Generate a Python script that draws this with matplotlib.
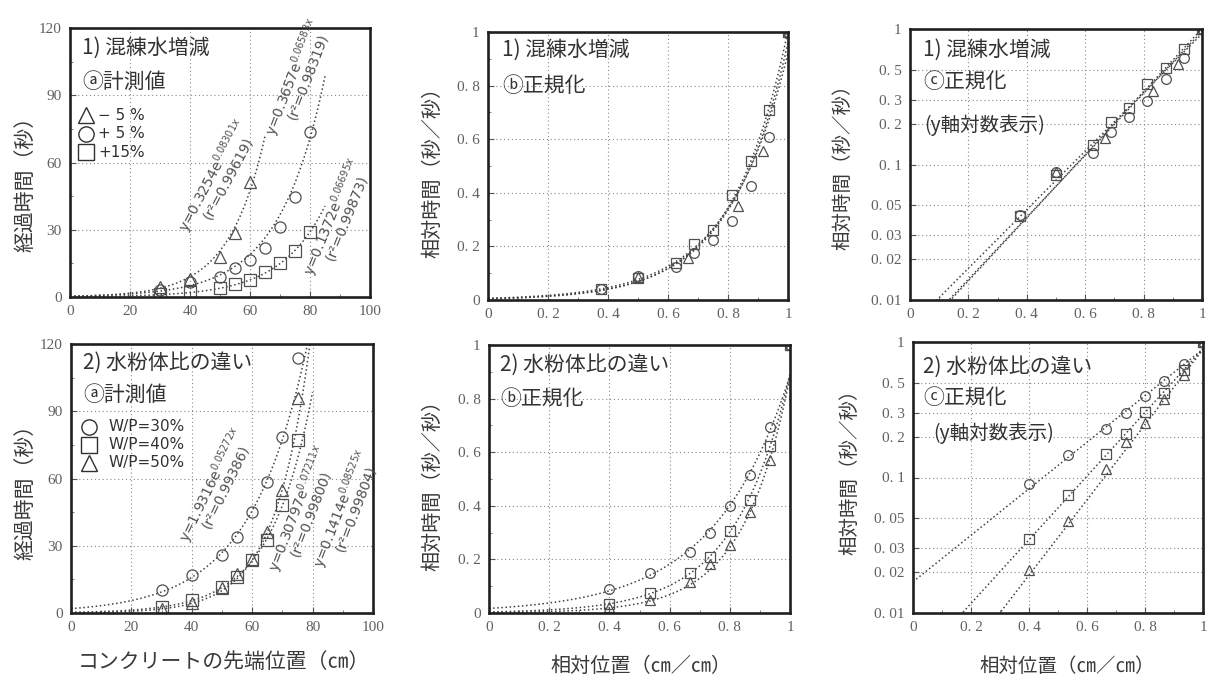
import numpy as np
import matplotlib
matplotlib.use("Agg")
import matplotlib.pyplot as plt
from matplotlib.transforms import offset_copy

plt.rcParams['font.family'] = ['Noto Sans CJK JP', 'DejaVu Sans']
plt.rcParams['mathtext.fontset'] = 'dejavusans'

# ---------------- data ----------------
# 1) mixing water: concrete front position (cm) and elapsed time (s)
pos_m5 = [30, 40, 50, 55, 60]
time_m5 = [4.5, 8.0, 18.0, 28.5, 51.4]
pos_p5 = [30, 40, 50, 55, 60, 65, 70, 75, 80]
time_p5 = [3.1, 6.5, 9.0, 12.8, 16.5, 21.7, 31.4, 44.7, 73.7]
pos_p15 = [30, 40, 50, 55, 60, 65, 70, 75, 80]
time_p15 = [1.2, 2.4, 4.0, 6.0, 7.6, 11.3, 15.0, 20.5, 28.9]
mix_labels = ['− 5 %', '+ 5 %', '+15%']
mix_fit_a = [0.3254, 0.3657, 0.1372]
mix_fit_b = [0.08301, 0.06583, 0.06695]
mix_r2 = [0.99619, 0.98319, 0.99873]

# 2) water/powder ratio
pos_wp = [30, 40, 50, 55, 60, 65, 70, 75]
time_wp30 = [10.1, 16.8, 25.8, 34.0, 45.2, 58.6, 78.7, 113.7]
time_wp40 = [2.7, 5.7, 11.6, 16.1, 23.6, 32.5, 48.2, 77.2]
time_wp50 = [2.0, 4.6, 11.0, 17.6, 24.3, 36.2, 54.9, 95.9]
wp_labels = ['W/P=30%', 'W/P=40%', 'W/P=50%']
wp_fit_a = [1.9316, 0.30797, 0.1414]
wp_fit_b = [0.05272, 0.07211, 0.08525]
wp_r2 = [0.99386, 0.99800, 0.99804]

# tick labels
pos_ticks = [0, 20, 40, 60, 80, 100]
time_ticks = [0, 30, 60, 90, 120]
rel_ticks = [0, 0.2, 0.4, 0.6, 0.8, 1]
rel_tick_labels = ['0', '0. 2', '0. 4', '0. 6', '0. 8', '1']
log_ticks = [0.01, 0.02, 0.03, 0.05, 0.1, 0.2, 0.3, 0.5, 1]
log_tick_labels = ['0. 01', '0. 02', '0. 03', '0. 05', '0. 1', '0. 2', '0. 3', '0. 5', '1']

# ---------------- style ----------------
W, H = 1208, 679
fig = plt.figure(figsize=(W / 100, H / 100), dpi=100)
fig.patch.set_facecolor('white')

TICK_FONT = dict(family='Liberation Serif', size=11, color='#606060')
mk_style = dict(mfc='none', mec='#505050', mew=0.9, ls='none')
curve_style = dict(ls=(0, (1, 1.7)), color='#404040', lw=1.1)


def px_axes(left, top, right, bottom):
    return fig.add_axes([left / W, 1 - bottom / H, (right - left) / W, (bottom - top) / H])


def style(ax, xticks, xlabels, yticks, ylabels):
    for s in ax.spines.values():
        s.set_linewidth(1.9)
        s.set_color('#202020')
    ax.set_xticks(xticks)
    ax.set_xticklabels(xlabels, fontdict=TICK_FONT)
    ax.set_yticks(yticks)
    ax.set_yticklabels(ylabels, fontdict=TICK_FONT)
    ax.tick_params(direction='in', length=4, width=0.8, color='#555', pad=6, which='major')
    ax.tick_params(direction='in', length=2.5, width=0.6, color='#666', which='minor')
    ax.grid(True, which='major', ls=(0, (1, 2.5)), color='#8a8a8a', lw=0.8)
    ax.set_axisbelow(True)


def panel_text(ax, x, y, s, size=15):
    ax.text(x, y, s, transform=ax.transAxes, fontsize=size, color='#333',
            ha='left', va='center', family=['Noto Sans CJK JP', 'DejaVu Sans'])


def fit_label(ax, x, y, rot, a, b, r2, ndig):
    kw = dict(rotation=rot, rotation_mode='anchor', ha='left', va='baseline',
              fontsize=10, color='#505050', family='DejaVu Sans')
    ax.text(x, y, f"y={a:.{ndig}f}e$^{{{b:.5f}x}}$", **kw)
    th = np.deg2rad(rot)
    along, down = 22, 13
    dx = along * np.cos(th) + down * np.sin(th)
    dy = along * np.sin(th) - down * np.cos(th)
    tr = offset_copy(ax.transData, fig=fig, x=dx, y=dy, units='dots')
    ax.text(x, y, f"(r²={r2:.5f})", transform=tr, **kw)


def legend_rows(ax, x_mark, x_text, ys, markers, labels, size):
    for yy, m, lab in zip(ys, markers, labels):
        ax.plot([x_mark], [yy], marker=m, ms=11, transform=ax.transAxes,
                clip_on=False, mfc='none', mec='#303030', mew=1.0)
        ax.text(x_text, yy, lab, transform=ax.transAxes, fontsize=size,
                color='#333', va='center', ha='left', family='DejaVu Sans')


mix_sets = [(pos_m5, time_m5, '^'), (pos_p5, time_p5, 'o'), (pos_p15, time_p15, 's')]
wp_sets = [(pos_wp, time_wp30, 'o'), (pos_wp, time_wp40, 's'), (pos_wp, time_wp50, '^')]


def measured_panel(ax, sets, fa, fb):
    for (px, tt, m), a, b in zip(sets, fa, fb):
        xc = np.linspace(0, max(px) + 5, 300)
        ax.plot(xc, a * np.exp(b * xc), **curve_style)
        ax.plot(px, tt, marker=m, ms=8, **mk_style)
    ax.set_xlim(0, 100)
    ax.set_ylim(0, 120)
    style(ax, pos_ticks, [str(v) for v in pos_ticks], time_ticks, [str(v) for v in time_ticks])
    ax.set_xticks(np.arange(10, 100, 20), minor=True)
    ax.set_yticks(np.arange(15, 120, 30), minor=True)


def normalized_panel(ax, sets, fa, fb, log=False):
    for (px, tt, m), a, b in zip(sets, fa, fb):
        px = np.asarray(px, float)
        tt = np.asarray(tt, float)
        xmax, tmax = px.max(), tt.max()
        xc = np.linspace(0, 1, 300)
        ax.plot(xc, a * np.exp(b * xmax * xc) / tmax, **curve_style)
        ax.plot(px / xmax, tt / tmax, marker=m, ms=7, **mk_style)
    ax.set_xlim(0, 1)
    if log:
        ax.set_yscale('log')
        ax.set_ylim(0.01, 1)
        style(ax, rel_ticks, rel_tick_labels, log_ticks, log_tick_labels)
        ax.yaxis.set_minor_locator(matplotlib.ticker.NullLocator())
        ax.set_xticks(np.arange(0.1, 1, 0.2), minor=True)
    else:
        ax.set_ylim(0, 1)
        style(ax, rel_ticks, rel_tick_labels, rel_ticks, rel_tick_labels)
        ax.set_xticks(np.arange(0.1, 1, 0.2), minor=True)
        ax.set_yticks(np.arange(0.1, 1, 0.2), minor=True)


# ---------------- panels ----------------
ax_tl = px_axes(70, 28, 370, 297)
ax_bl = px_axes(71, 344, 373, 613)
ax_tm = px_axes(488, 32, 788, 300)
ax_bm = px_axes(489, 345, 790, 613)
ax_tr = px_axes(910, 29, 1202, 300)
ax_br = px_axes(913, 342, 1203, 613)

measured_panel(ax_tl, mix_sets, mix_fit_a, mix_fit_b)
measured_panel(ax_bl, wp_sets, wp_fit_a, wp_fit_b)
normalized_panel(ax_tm, mix_sets, mix_fit_a, mix_fit_b)
normalized_panel(ax_bm, wp_sets, wp_fit_a, wp_fit_b)
normalized_panel(ax_tr, mix_sets, mix_fit_a, mix_fit_b, log=True)
normalized_panel(ax_br, wp_sets, wp_fit_a, wp_fit_b, log=True)

# panel captions
panel_text(ax_tl, 0.04, 0.926, '1) 混練水増減')
panel_text(ax_tl, 0.04, 0.80, 'ⓐ計測値')
panel_text(ax_bl, 0.04, 0.929, '2) 水粉体比の違い')
panel_text(ax_bl, 0.04, 0.81, 'ⓐ計測値')
panel_text(ax_tm, 0.047, 0.933, '1) 混練水増減')
panel_text(ax_tm, 0.047, 0.80, 'ⓑ正規化')
panel_text(ax_bm, 0.037, 0.925, '2) 水粉体比の違い')
panel_text(ax_bm, 0.037, 0.80, 'ⓑ正規化')
panel_text(ax_tr, 0.045, 0.922, '1) 混練水増減')
panel_text(ax_tr, 0.045, 0.804, 'ⓒ正規化')
panel_text(ax_tr, 0.05, 0.646, '(y軸対数表示)', size=14)
panel_text(ax_br, 0.034, 0.908, '2) 水粉体比の違い')
panel_text(ax_br, 0.034, 0.793, 'ⓒ正規化')
panel_text(ax_br, 0.07, 0.664, '(y軸対数表示)', size=14)

# legends
legend_rows(ax_tl, 0.053, 0.095, [0.675, 0.607, 0.539], ['^', 'o', 's'], mix_labels, 11)
legend_rows(ax_bl, 0.06, 0.123, [0.692, 0.625, 0.558], ['o', 's', '^'], wp_labels, 11)

# fitted equations along the curves
for (x, y, rot), a, b, r2 in zip([(39.4, 28.4, 62), (68.3, 71.5, 69), (81.1, 9.1, 68)],
                                 mix_fit_a, mix_fit_b, mix_r2):
    fit_label(ax_tl, x, y, rot, a, b, r2, 4)
for (x, y, rot), a, b, r2, nd in zip([(38.8, 31.1, 64), (68.6, 17.7, 69), (83.5, 19.9, 69)],
                                     wp_fit_a, wp_fit_b, wp_r2, [4, 5, 4]):
    fit_label(ax_bl, x, y, rot, a, b, r2, nd)

# axis titles
lab_kw = dict(color='#3a3a3a', family=['Noto Sans CJK JP', 'DejaVu Sans'])
fig.text(25 / W, 1 - 179 / H, '経過時間（秒）', rotation=90, ha='center', va='center', fontsize=15, **lab_kw)
fig.text(25 / W, 1 - 487 / H, '経過時間（秒）', rotation=90, ha='center', va='center', fontsize=15, **lab_kw)
fig.text(433 / W, 1 - 167 / H, '相対時間（秒／秒）', rotation=90, ha='center', va='center', fontsize=14.5, **lab_kw)
fig.text(433 / W, 1 - 480 / H, '相対時間（秒／秒）', rotation=90, ha='center', va='center', fontsize=14.5, **lab_kw)
fig.text(843 / W, 1 - 162 / H, '相対時間（秒／秒）', rotation=90, ha='center', va='center', fontsize=14, **lab_kw)
fig.text(850 / W, 1 - 467 / H, '相対時間（秒／秒）', rotation=90, ha='center', va='center', fontsize=14, **lab_kw)
fig.text(224 / W, 1 - 662 / H, 'コンクリートの先端位置（㎝）', ha='center', va='center', fontsize=15, **lab_kw)
fig.text(641 / W, 1 - 666 / H, '相対位置（㎝／㎝）', ha='center', va='center', fontsize=14.5, **lab_kw)
fig.text(1067 / W, 1 - 666 / H, '相対位置（㎝／㎝）', ha='center', va='center', fontsize=14, **lab_kw)

fig.savefig('out.png', dpi=100, facecolor='white')
